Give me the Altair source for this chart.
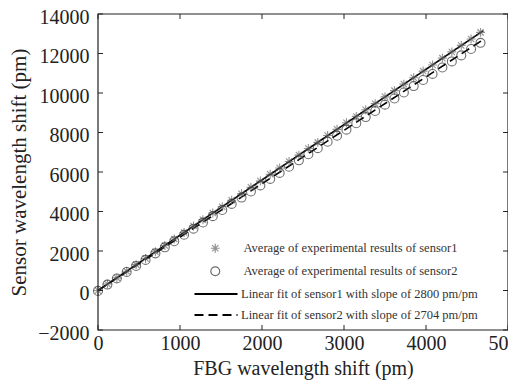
import altair as alt
import pandas as pd

# ---- data ----
fbg_shift = [0, 115, 230, 350, 465, 580, 700, 815, 930, 1050, 1165, 1280, 1400, 1515,
             1630, 1750, 1865, 1980, 2100, 2215, 2330, 2450, 2565, 2680, 2800, 2915,
             3030, 3150, 3265, 3380, 3500, 3615, 3730, 3850, 3965, 4080, 4200, 4315,
             4430, 4550, 4665]
sensor1 = [0, 330, 640, 975, 1310, 1620, 1965, 2280, 2610, 2935, 3270, 3580, 3925, 4240,
           4570, 4895, 5230, 5540, 5885, 6200, 6530, 6855, 7190, 7500, 7845, 8160,
           8490, 8815, 9150, 9460, 9805, 10120, 10450, 10775, 11110, 11420, 11765, 12080,
           12410, 12735, 13070]
sensor2 = [-20, 300, 610, 935, 1245, 1550, 1880, 2185, 2495, 2820, 3130, 3440, 3765, 4075,
           4385, 4705, 5015, 5320, 5650, 5955, 6265, 6590, 6895, 7205, 7530, 7835,
           8145, 8470, 8780, 9085, 9410, 9720, 10025, 10350, 10660, 10965, 11290, 11600,
           11905, 12230, 12540]
fit_x = [0, 4700]
fit1_y = [0, 13160]
fit2_y = [0, 12709]

point_names = ["Average of experimental results of sensor1",
               "Average of experimental results of sensor2"]
fit_names = ["Linear fit of sensor1 with slope of 2800 pm/pm",
             "Linear fit of sensor2 with slope of 2704 pm/pm"]
x_ticks = [0, 1000, 2000, 3000, 4000, 5000]
y_ticks = [-2000, 0, 2000, 4000, 6000, 8000, 10000, 12000, 14000]

pts = pd.DataFrame({
    "x": fbg_shift + fbg_shift,
    "y": sensor1 + sensor2,
    "series": [point_names[0]] * len(fbg_shift) + [point_names[1]] * len(fbg_shift),
})
fits = pd.DataFrame({
    "x": fit_x + fit_x,
    "y": fit1_y + fit2_y,
    "fit": [fit_names[0]] * 2 + [fit_names[1]] * 2,
})
xt = pd.DataFrame({"x": x_ticks})
yt = pd.DataFrame({"y": y_ticks})

W, H = 410, 316
TICK = 5
FONT = "Liberation Serif"
INK = "#222222"
ASTERISK = "M0,-1L0,1M-1,0L1,0M-0.7,-0.7L0.7,0.7M-0.7,0.7L0.7,-0.7"
WIDE_LINE = "M-2.5,0L2.5,0"

xscale = alt.Scale(domain=[0, 5000], nice=False, zero=False)
yscale = alt.Scale(domain=[-2000, 14000], nice=False, zero=False)

x_axis = alt.Axis(values=x_ticks, orient="bottom", title="FBG wavelength shift (pm)",
                  format="d", ticks=False, domain=False, grid=False, labelFlush=False,
                  labelPadding=3, titlePadding=5, labelFontSize=20, titleFontSize=20,
                  labelFont=FONT, titleFont=FONT, labelColor=INK, titleColor=INK,
                  titleFontWeight="normal")
y_axis = alt.Axis(values=y_ticks, orient="left", title="Sensor wavelength shift (pm)",
                  format="d", ticks=False, domain=False, grid=False, labelFlush=False,
                  labelPadding=9, labelOffset=3, titlePadding=8, labelFontSize=20,
                  titleFontSize=21, labelFont=FONT, titleFont=FONT, labelColor=INK,
                  titleColor=INK, titleFontWeight="normal")

X = lambda: alt.X("x:Q", scale=xscale, axis=x_axis)
Y = lambda: alt.Y("y:Q", scale=yscale, axis=y_axis)

lines = alt.Chart(fits).mark_line(color="black", strokeWidth=1.6).encode(
    x=X(), y=Y(),
    strokeDash=alt.StrokeDash(
        "fit:N",
        scale=alt.Scale(domain=fit_names, range=[[1, 0], [9, 5]]),
        legend=alt.Legend(
            title=None, orient="none", legendX=108, legendY=270,
            symbolType=WIDE_LINE, symbolSize=296, symbolStrokeWidth=2,
            symbolStrokeColor="black", labelOffset=15, rowPadding=4,
            labelFont=FONT, labelFontSize=12.5, labelColor="#333", labelLimit=400,
        ),
    ),
    detail="fit:N",
)

points = alt.Chart(pts).mark_point(filled=False, size=80, strokeWidth=1.1).encode(
    x=X(), y=Y(),
    shape=alt.Shape(
        "series:N",
        scale=alt.Scale(domain=point_names, range=[ASTERISK, "circle"]),
        legend=alt.Legend(
            title=None, orient="none", legendX=111, legendY=228,
            symbolSize=80, symbolStrokeWidth=1.2, symbolStrokeColor="#333",
            symbolFillColor="transparent", labelOffset=22, rowPadding=8,
            labelFont=FONT, labelFontSize=12.5, labelColor="#333", labelLimit=400,
        ),
    ),
    stroke=alt.Stroke(
        "series:N",
        scale=alt.Scale(domain=point_names, range=["#666666", "#333333"]),
        legend=None,
    ),
)

# inward tick marks on all four sides, positioned by the shared scales
tick_style = dict(color=INK, strokeWidth=1)
bottom_ticks = alt.Chart(xt).mark_rule(**tick_style).encode(
    x=X(), y=alt.value(H), y2=alt.value(H - TICK))
top_ticks = alt.Chart(xt).mark_rule(**tick_style).encode(
    x=X(), y=alt.value(0), y2=alt.value(TICK))
left_ticks = alt.Chart(yt).mark_rule(**tick_style).encode(
    y=Y(), x=alt.value(0), x2=alt.value(TICK))
right_ticks = alt.Chart(yt).mark_rule(**tick_style).encode(
    y=Y(), x=alt.value(W), x2=alt.value(W - TICK))

frame = alt.Chart(pd.DataFrame({"f": [0]})).mark_rect(
    fill="transparent", stroke=INK, strokeWidth=1.2
).encode(x=alt.value(0), x2=alt.value(W), y=alt.value(0), y2=alt.value(H))

chart = alt.layer(
    lines, points, bottom_ticks, top_ticks, left_ticks, right_ticks, frame
).properties(
    width=W, height=H,
    background="white",
    autosize=alt.AutoSizeParams(type="none"),
    padding={"left": 90, "top": 6, "right": 0, "bottom": 54},
).configure_view(stroke=None)

chart.save("out.html", embed_options={"renderer": "svg", "actions": False})
